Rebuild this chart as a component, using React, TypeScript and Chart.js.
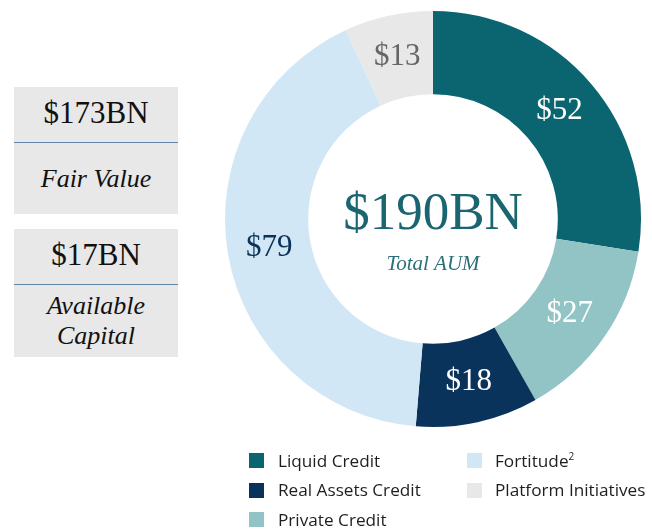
import React, { useEffect, useRef } from "react";
import { Chart, registerables } from "chart.js";

Chart.register(...registerables);

const categories = ["Liquid Credit", "Private Credit", "Real Assets Credit", "Fortitude", "Platform Initiatives"];
const values = [52, 27, 18, 79, 13];
const valueLabels = ["$52", "$27", "$18", "$79", "$13"];
const sliceColors = ["#0B6570", "#93C4C5", "#0A335B", "#D2E7F6", "#E8E8E8"];
const labelColors = ["#FFFFFF", "#FFFFFF", "#FFFFFF", "#0A335B", "#666666"];
const legendColumns = [[0, 2, 1], [3, 4]];
const legendSup = ["", "", "", "2", ""];
const totalText = "$190BN";
const totalSub = "Total AUM";
const sideBoxes = [
  { value: "$173BN", label: ["Fair Value"] },
  { value: "$17BN", label: ["Available", "Capital"] },
];

const SERIF = '"Liberation Serif", "Times New Roman", serif';
const SANS = '"Open Sans", "Noto Sans", sans-serif';

const labelPlugin = {
  id: "labels",
  afterDatasetsDraw(chart: any) {
    const ctx = chart.ctx;
    const meta = chart.getDatasetMeta(0);
    ctx.save();
    ctx.textAlign = "center";
    ctx.textBaseline = "middle";
    ctx.font = `31px ${SERIF}`;
    meta.data.forEach((arc: any, i: number) => {
      const p = arc.tooltipPosition();
      ctx.fillStyle = labelColors[i];
      ctx.fillText(valueLabels[i], p.x, p.y);
    });
    const cx = (chart.chartArea.left + chart.chartArea.right) / 2;
    const cy = (chart.chartArea.top + chart.chartArea.bottom) / 2;
    ctx.fillStyle = "#1B6570";
    ctx.font = `53px ${SERIF}`;
    ctx.fillText(totalText, cx, cy - 4);
    ctx.fillStyle = "#2A6F78";
    ctx.font = `italic 21px ${SERIF}`;
    ctx.fillText(totalSub, cx, cy + 45);
    ctx.restore();
  },
};

export default function App() {
  const ref = useRef<HTMLCanvasElement>(null);
  useEffect(() => {
    if (!ref.current) return;
    const chart = new Chart(ref.current, {
      type: "doughnut",
      data: {
        labels: categories,
        datasets: [
          {
            data: values,
            backgroundColor: sliceColors,
            borderWidth: 0,
          },
        ],
      },
      options: {
        responsive: false,
        maintainAspectRatio: false,
        animation: false,
        cutout: "60%",
        layout: { padding: { left: 225, right: 11, top: 11, bottom: 103 } },
        plugins: { legend: { display: false }, tooltip: { enabled: false } },
      },
      plugins: [labelPlugin],
    });
    return () => chart.destroy();
  }, []);

  const boxTops = [87, 229];
  const boxHeights = [127, 128];

  return (
    <div style={{ position: "absolute", left: 0, top: 0, width: 652, height: 530, background: "#fff" }}>
      <canvas ref={ref} width={652} height={530} style={{ position: "absolute", left: 0, top: 0 }} />
      {sideBoxes.map((b, i) => (
        <div
          key={i}
          style={{
            position: "absolute",
            left: 14,
            top: boxTops[i],
            width: 164,
            height: boxHeights[i],
            background: "#E8E8E8",
            fontFamily: SERIF,
            color: "#111",
            textAlign: "center",
          }}
        >
          <div style={{ height: 55, lineHeight: "52px", fontSize: 31, borderBottom: "1.5px solid #5F86A8" }}>{b.value}</div>
          <div
            style={{
              height: boxHeights[i] - 56,
              display: "flex",
              flexDirection: "column",
              justifyContent: "center",
              fontStyle: "italic",
              fontSize: 26,
              lineHeight: "30px",
            }}
          >
            {b.label.map((l, j) => (
              <div key={j}>{l}</div>
            ))}
          </div>
        </div>
      ))}
      {legendColumns.map((col, ci) => (
        <div key={ci} style={{ position: "absolute", left: ci === 0 ? 249 : 467, top: 446 }}>
          {col.map((idx) => (
            <div key={idx} style={{ display: "flex", alignItems: "center", height: 29.5 }}>
              <div style={{ width: 15, height: 15, background: sliceColors[idx], marginRight: ci === 0 ? 14 : 13 }} />
              <span style={{ fontFamily: SANS, fontSize: 17.2, color: "#1E1E1E", lineHeight: "20px" }}>
                {categories[idx]}
                {legendSup[idx] && <sup style={{ fontSize: 10, lineHeight: 0 }}>{legendSup[idx]}</sup>}
              </span>
            </div>
          ))}
        </div>
      ))}
    </div>
  );
}
